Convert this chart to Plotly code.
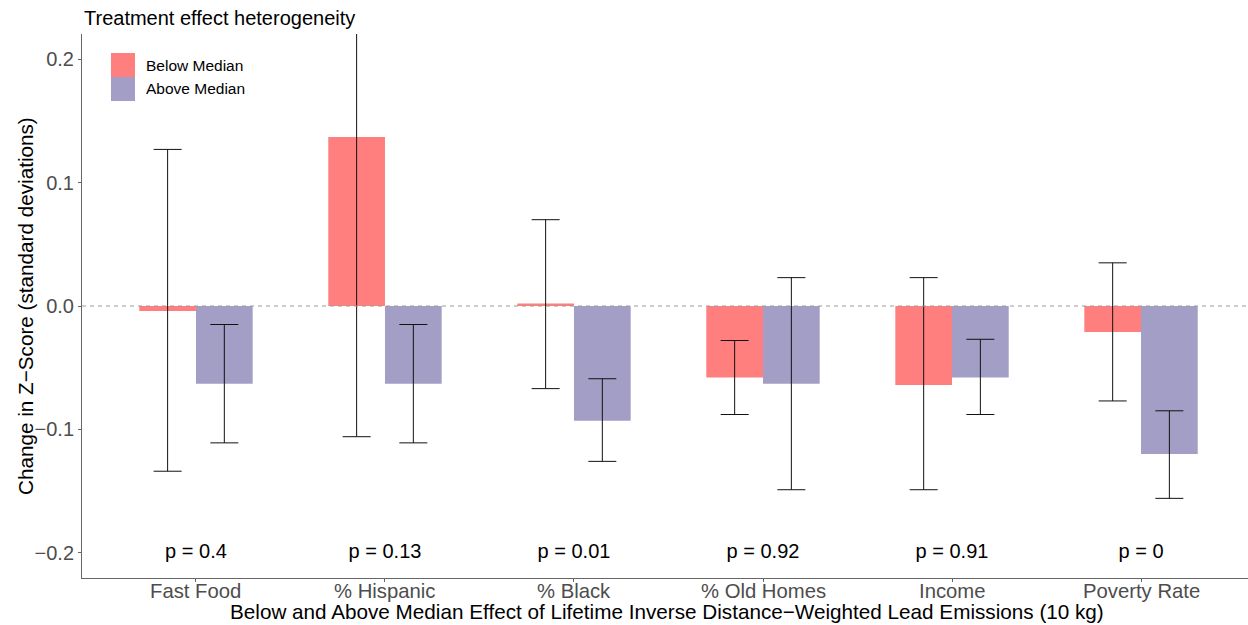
import plotly.graph_objects as go

# Heterogeneity groups and estimates
categories = ["Fast Food", "% Hispanic", "% Black", "% Old Homes", "Income", "Poverty Rate"]

below_est = [-0.004, 0.137, 0.002, -0.058, -0.064, -0.021]
below_lo = [-0.134, -0.106, -0.067, -0.088, -0.149, -0.077]
below_hi = [0.127, 0.380, 0.070, -0.028, 0.023, 0.035]

above_est = [-0.063, -0.063, -0.093, -0.063, -0.058, -0.120]
above_lo = [-0.111, -0.111, -0.126, -0.149, -0.088, -0.156]
above_hi = [-0.015, -0.015, -0.059, 0.023, -0.027, -0.085]

p_labels = ["p = 0.4", "p = 0.13", "p = 0.01", "p = 0.92", "p = 0.91", "p = 0"]
p_label_y = -0.2

BELOW_COLOR = "#FF7F7F"
ABOVE_COLOR = "#A39EC5"
FONT = "Liberation Sans, Arial, Helvetica, sans-serif"


def err(est, lo, hi):
    return dict(
        type="data",
        symmetric=False,
        array=[h - e for e, h in zip(est, hi)],
        arrayminus=[e - l for e, l in zip(est, lo)],
        color="#111111",
        thickness=1,
        width=14,
    )


fig = go.Figure()
fig.add_trace(go.Bar(
    x=categories, y=below_est, name="Below Median",
    marker=dict(color=BELOW_COLOR, line=dict(width=0)),
    error_y=err(below_est, below_lo, below_hi),
    showlegend=False,
))
fig.add_trace(go.Bar(
    x=categories, y=above_est, name="Above Median",
    marker=dict(color=ABOVE_COLOR, line=dict(width=0)),
    error_y=err(above_est, above_lo, above_hi),
    showlegend=False,
))
fig.add_trace(go.Scatter(
    x=categories, y=[p_label_y] * len(categories), text=p_labels,
    mode="text", textposition="middle center",
    textfont=dict(family=FONT, size=20, color="#000000"),
    showlegend=False, hoverinfo="skip",
))

# dashed reference line at zero, drawn over the bars
fig.add_shape(type="line", xref="paper", yref="y", x0=0, x1=1, y0=0, y1=0,
              line=dict(color="#9A9A9A", width=1, dash="4px,4px"), layer="above")

# helpers to place items in pixel terms relative to the panel
PH = 544.0
PW = 1166.0
def px_x(px):
    return (px - 82) / PW
def px_y(py):
    return (578 - py) / PH

# category labels sit close under the axis line
for cat in categories:
    fig.add_annotation(xref="x", yref="paper", x=cat, y=px_y(591),
                       text=cat, showarrow=False, xanchor="center", yanchor="middle",
                       font=dict(family=FONT, size=20.3, color="#4D4D4D"))

# legend keys drawn as filled squares inside the panel
legend_items = [("Below Median", BELOW_COLOR, 53), ("Above Median", ABOVE_COLOR, 77)]
for label, color, top in legend_items:
    fig.add_shape(type="rect", xref="paper", yref="paper",
                  x0=px_x(111), x1=px_x(135), y0=px_y(top + 24), y1=px_y(top),
                  fillcolor=color, line=dict(width=0), layer="above")
    fig.add_annotation(xref="paper", yref="paper", x=px_x(144), y=px_y(top + 12),
                       text=label, showarrow=False, xanchor="left", yanchor="middle",
                       font=dict(family=FONT, size=15.5, color="#000000"))

# titles
fig.add_annotation(xref="paper", yref="paper", x=px_x(82), y=px_y(18),
                   text="Treatment effect heterogeneity", showarrow=False,
                   xanchor="left", yanchor="middle",
                   font=dict(family=FONT, size=20, color="#000000"))
fig.add_annotation(xref="paper", yref="paper", x=px_x(667), y=px_y(611),
                   text="Below and Above Median Effect of Lifetime Inverse Distance\u2212Weighted Lead Emissions (10 kg)",
                   showarrow=False, xanchor="center", yanchor="middle",
                   font=dict(family=FONT, size=20.7, color="#000000"))
fig.add_annotation(xref="paper", yref="paper", x=px_x(25), y=0.5,
                   text="Change in Z\u2212Score (standard deviations)", textangle=-90,
                   showarrow=False, xanchor="center", yanchor="middle",
                   font=dict(family=FONT, size=20.7, color="#000000"))

fig.update_layout(
    width=1248, height=625,
    margin=dict(l=82, r=0, t=34, b=47, pad=0),
    paper_bgcolor="white", plot_bgcolor="white",
    barmode="group", bargap=0.4, bargroupgap=0,
    font=dict(family=FONT, size=20, color="#4D4D4D"),
    xaxis=dict(
        type="category", range=[-0.603, 5.566],
        showline=True, linecolor="#666666", linewidth=1,
        ticks="outside", ticklen=3, tickcolor="#666666",
        showticklabels=False,
        showgrid=False, zeroline=False, fixedrange=True,
    ),
    yaxis=dict(
        range=[-0.2206, 0.2206],
        tickvals=[-0.2, -0.1, 0.0, 0.1, 0.2],
        ticktext=["\u22120.2", "\u22120.1", "0.0", "0.1", "0.2"],
        showline=True, linecolor="#666666", linewidth=1,
        ticks="outside", ticklen=3, tickcolor="#666666",
        tickfont=dict(family=FONT, size=20, color="#4D4D4D"),
        showgrid=False, zeroline=False, fixedrange=True,
    ),
)

fig.write_html("out.html")
